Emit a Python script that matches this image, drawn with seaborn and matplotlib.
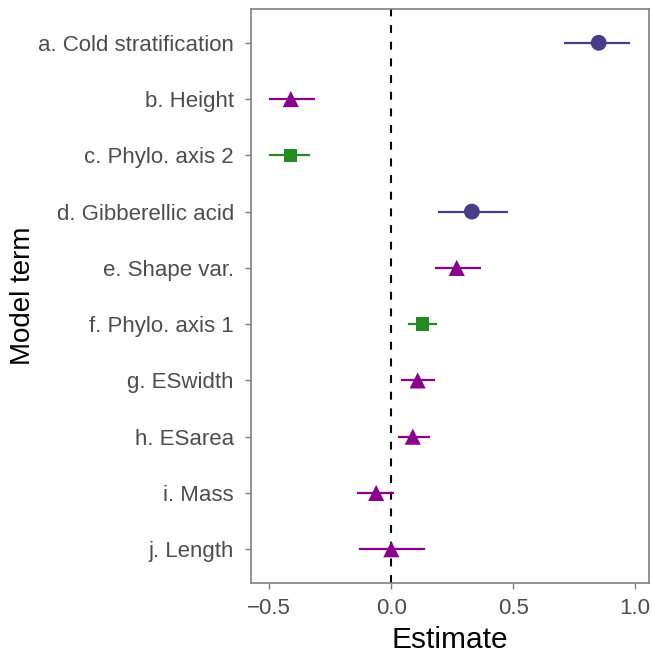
import matplotlib
matplotlib.use("Agg")
import matplotlib.pyplot as plt
import seaborn as sns
import pandas as pd

terms = ["a. Cold stratification", "b. Height", "c. Phylo. axis 2", "d. Gibberellic acid",
         "e. Shape var.", "f. Phylo. axis 1", "g. ESwidth", "h. ESarea", "i. Mass", "j. Length"]
estimate = [0.851, -0.411, -0.411, 0.331, 0.269, 0.128, 0.109, 0.089, -0.061, 0.001]
lower = [0.710, -0.500, -0.500, 0.191, 0.182, 0.068, 0.041, 0.030, -0.141, -0.131]
upper = [0.981, -0.311, -0.332, 0.480, 0.370, 0.190, 0.180, 0.160, 0.010, 0.139]
group = ["treatment", "trait", "phylogeny", "treatment", "trait",
         "phylogeny", "trait", "trait", "trait", "trait"]

df = pd.DataFrame({"term": terms, "estimate": estimate, "lower": lower,
                   "upper": upper, "group": group})

palette = {"treatment": "#483D8B", "trait": "#8B008B", "phylogeny": "#228B22"}
markers = {"treatment": "o", "trait": "^", "phylogeny": "s"}
sizes = {"treatment": 130, "trait": 135, "phylogeny": 92}

sns.set_theme(style="white")
plt.rcParams["font.family"] = ["Liberation Sans", "DejaVu Sans"]

fig = plt.figure(figsize=(6.52, 6.59), dpi=100)
ax = fig.add_axes([0.385, 0.1153, 0.6104, 0.871])

ypos = {t: i for i, t in enumerate(terms)}
for _, r in df.iterrows():
    ax.hlines(ypos[r["term"]], r["lower"], r["upper"], color=palette[r["group"]],
              lw=1.6, zorder=2)

for g in ["treatment", "trait", "phylogeny"]:
    sub = df[df["group"] == g]
    sns.scatterplot(x=sub["estimate"], y=[ypos[t] for t in sub["term"]], ax=ax,
                    color=palette[g], marker=markers[g], s=sizes[g],
                    edgecolor="none", linewidth=0, zorder=3, legend=False)

ax.axvline(0, color="black", ls=(0, (3.8, 4.2)), lw=1.5, zorder=1)

ax.set_xlim(-0.574, 1.057)
ax.set_ylim(len(terms) - 0.4, -0.6)
ax.set_yticks(range(len(terms)))
ax.set_yticklabels(terms)
ax.set_xticks([-0.5, 0.0, 0.5, 1.0])
ax.set_xticklabels(["\u22120.5", "0.0", "0.5", "1.0"])

ax.set_xlabel("Estimate", fontsize=21.5, color="black", labelpad=5)
ax.set_ylabel("Model term", fontsize=20, color="black", labelpad=1.5)

ax.tick_params(axis="both", which="both", length=4.3, width=1, color="#7F7F7F",
               labelsize=16, labelcolor="#4D4D4D", direction="out",
               bottom=True, left=True)
ax.tick_params(axis="y", pad=8)
ax.tick_params(axis="x", pad=6.5)
for sp in ax.spines.values():
    sp.set_color("#7F7F7F")
    sp.set_linewidth(1.2)

fig.savefig("out.png", dpi=100)
